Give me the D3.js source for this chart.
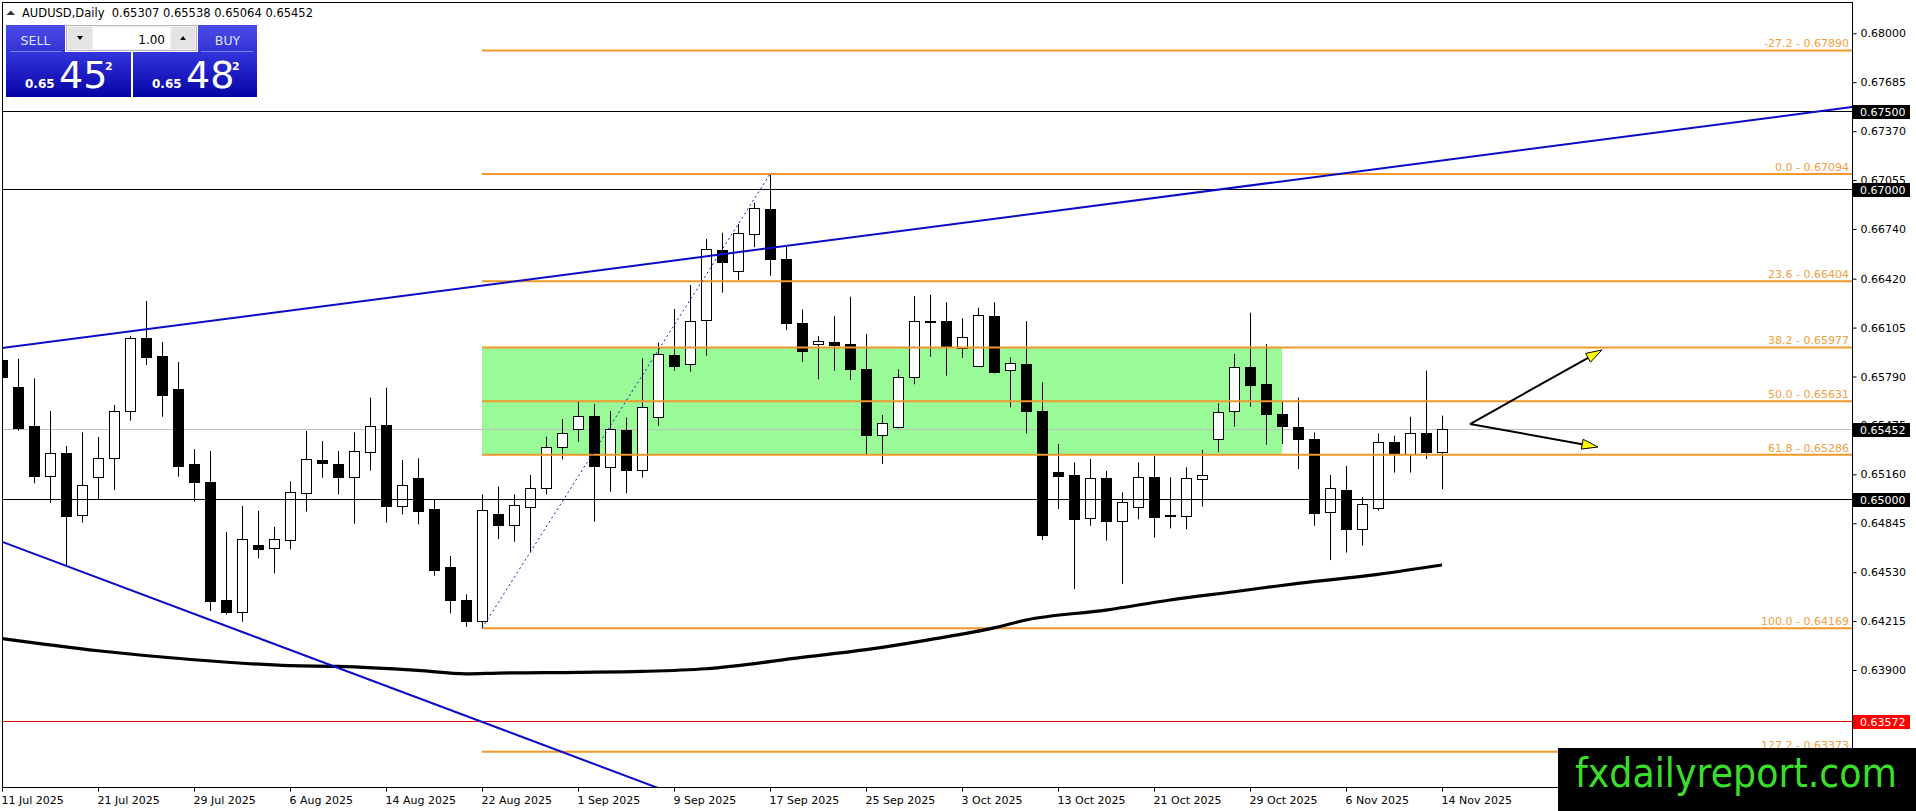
<!DOCTYPE html>
<html><head><meta charset="utf-8">
<script src="https://cdn.jsdelivr.net/npm/d3@7/dist/d3.min.js"></script>
<style>
html,body{margin:0;padding:0;background:#fff;overflow:hidden;}
svg{display:block;}
text{font-family:"DejaVu Sans",sans-serif;}
</style></head><body>
<svg id="chart" width="1916" height="811"></svg>
<script>
// ---------------- DATA ----------------
const symbol = "AUDUSD", timeframe = "Daily";
const dates = ["11 Jul 2025","14 Jul 2025","15 Jul 2025","16 Jul 2025","17 Jul 2025","18 Jul 2025","21 Jul 2025","22 Jul 2025","23 Jul 2025","24 Jul 2025","25 Jul 2025","28 Jul 2025","29 Jul 2025","30 Jul 2025","31 Jul 2025",
"1 Aug 2025","4 Aug 2025","5 Aug 2025","6 Aug 2025","7 Aug 2025","8 Aug 2025","11 Aug 2025","12 Aug 2025","13 Aug 2025","14 Aug 2025","15 Aug 2025","18 Aug 2025","19 Aug 2025","20 Aug 2025","21 Aug 2025","22 Aug 2025","25 Aug 2025","26 Aug 2025","27 Aug 2025","28 Aug 2025","29 Aug 2025",
"1 Sep 2025","2 Sep 2025","3 Sep 2025","4 Sep 2025","5 Sep 2025","8 Sep 2025","9 Sep 2025","10 Sep 2025","11 Sep 2025","12 Sep 2025","15 Sep 2025","16 Sep 2025","17 Sep 2025","18 Sep 2025","19 Sep 2025","22 Sep 2025","23 Sep 2025","24 Sep 2025","25 Sep 2025","26 Sep 2025","29 Sep 2025","30 Sep 2025",
"1 Oct 2025","2 Oct 2025","3 Oct 2025","6 Oct 2025","7 Oct 2025","8 Oct 2025","9 Oct 2025","10 Oct 2025","13 Oct 2025","14 Oct 2025","15 Oct 2025","16 Oct 2025","17 Oct 2025","20 Oct 2025","21 Oct 2025","22 Oct 2025","23 Oct 2025","24 Oct 2025","27 Oct 2025","28 Oct 2025","29 Oct 2025","30 Oct 2025","31 Oct 2025",
"3 Nov 2025","4 Nov 2025","5 Nov 2025","6 Nov 2025","7 Nov 2025","10 Nov 2025","11 Nov 2025","12 Nov 2025","13 Nov 2025","14 Nov 2025"];

const open  = [0.65896,0.65720,0.65471,0.65151,0.65297,0.64896,0.65145,0.65263,0.65566,0.66036,0.65922,0.65709,0.65226,0.65111,0.64349,
0.64271,0.64703,0.64683,0.64735,0.65038,0.65250,0.65226,0.65141,0.65306,0.65478,0.64958,0.65136,0.64937,0.64563,0.64349,0.64218,0.64902,0.64834,0.64948,0.65070,0.65334,
0.65450,0.65536,0.65209,0.65445,0.65188,0.65527,0.65926,0.65868,0.66152,0.66604,0.66471,0.66705,0.66866,0.66547,0.66132,0.65997,0.66010,0.66000,0.65838,0.65411,0.65467,0.65785,
0.66148,0.66145,0.65971,0.65860,0.66180,0.65832,0.65870,0.65568,0.65173,0.65156,0.64877,0.65134,0.64862,0.64952,0.65141,0.64893,0.64894,0.65132,0.65385,0.65566,0.65849,0.65742,0.65548,
0.65467,0.65387,0.64915,0.65059,0.64806,0.64945,0.65370,0.65291,0.65424,0.65307];
const high  = [0.65930,0.65903,0.65778,0.65568,0.65342,0.65430,0.65400,0.65606,0.66051,0.66276,0.66012,0.65883,0.65323,0.65310,0.64789,
0.64956,0.64924,0.64821,0.65115,0.65439,0.65375,0.65310,0.65430,0.65654,0.65718,0.65252,0.65263,0.65000,0.64634,0.64387,0.65031,0.65081,0.65031,0.65156,0.65402,0.65516,
0.65628,0.65611,0.65568,0.65525,0.65907,0.66008,0.66225,0.66379,0.66675,0.66716,0.66772,0.66909,0.67094,0.66630,0.66222,0.66051,0.66180,0.66304,0.66064,0.65542,0.65836,0.66308,
0.66315,0.66268,0.66165,0.66233,0.66268,0.65913,0.66147,0.65752,0.65355,0.65237,0.65259,0.65181,0.65044,0.65237,0.65278,0.65141,0.65205,0.65317,0.65617,0.65935,0.66201,0.65999,0.65628,
0.65654,0.65430,0.65156,0.65214,0.65012,0.65424,0.65409,0.65531,0.65828,0.65538];
const low   = [0.65596,0.65441,0.65102,0.64977,0.64576,0.64849,0.65001,0.65059,0.65506,0.65864,0.65531,0.65145,0.64984,0.64280,0.64258,
0.64211,0.64619,0.64522,0.64677,0.64920,0.65138,0.65031,0.64842,0.65184,0.64849,0.64902,0.64838,0.64507,0.64265,0.64178,0.64169,0.64742,0.64726,0.64656,0.65031,0.65256,
0.65370,0.64855,0.65048,0.65038,0.65139,0.65473,0.65828,0.65821,0.65924,0.66330,0.66411,0.66622,0.66439,0.66089,0.65885,0.65772,0.65828,0.65767,0.65291,0.65227,0.65456,0.65740,
0.65918,0.65795,0.65911,0.65853,0.65810,0.65591,0.65424,0.64737,0.64937,0.64422,0.64829,0.64733,0.64454,0.64870,0.64752,0.64812,0.64806,0.64952,0.65304,0.65467,0.65596,0.65351,0.65355,
0.65194,0.64829,0.64608,0.64656,0.64701,0.64926,0.65171,0.65171,0.65259,0.65064];
const close = [0.65789,0.65460,0.65151,0.65295,0.64894,0.65089,0.65263,0.65566,0.66036,0.65918,0.65673,0.65216,0.65113,0.64346,0.64271,
0.64741,0.64681,0.64741,0.65044,0.65257,0.65235,0.65145,0.65308,0.65471,0.64958,0.65089,0.64926,0.64546,0.64353,0.64218,0.64930,0.64831,0.64963,0.65070,0.65334,0.65424,
0.65538,0.65216,0.65450,0.65188,0.65591,0.65933,0.65860,0.66145,0.66609,0.66529,0.66712,0.66873,0.66544,0.66132,0.65956,0.66019,0.65993,0.65838,0.65413,0.65488,0.65785,0.66145,
0.66142,0.65986,0.66042,0.66186,0.65821,0.65875,0.65570,0.64769,0.65151,0.64870,0.65134,0.64862,0.64980,0.65141,0.64887,0.64898,0.65139,0.65154,0.65559,0.65849,0.65735,0.65548,0.65473,
0.65387,0.64913,0.65070,0.64806,0.64967,0.65370,0.65291,0.65424,0.65306,0.65452];

const xTickIdx = [0,6,12,18,24,30,36,42,48,54,60,66,72,78,84,90];
const yTicks = [0.68000,0.67685,0.67370,0.67055,0.66740,0.66420,0.66105,0.65790,0.65475,0.65160,0.64845,0.64530,0.64215,0.63900,0.63585,0.63270];

// 200-period moving average, read at sample bars
const maIdx  = [0,6,12,18,21,26,29,31,36,40,44,50,54,58,62,64,69,73,77,81,86,90];
const maVals = [0.64102,0.64024,0.63966,0.63928,0.63923,0.63897,0.63875,0.63880,0.63885,0.63891,0.63908,0.63981,0.64031,0.64096,0.64171,0.64222,0.64286,0.64351,0.64404,0.64458,0.64516,0.64576];

// Fibonacci retracement (low bar -> high bar)
const fibBars   = [30, 48];
const fibLevels = ["-27.2","0.0","23.6","38.2","50.0","61.8","100.0","127.2"];
const fibPrices = [0.67890,0.67094,0.66404,0.65977,0.65631,0.65286,0.64169,0.63373];
const zoneBars  = [30, 80];
const zonePrices = [0.65977, 0.65286];

const blackLevels = [0.67500, 0.67000, 0.65000];
const redLevel = 0.63572;
const bid = 0.65452, ask = 0.65482, lot = "1.00";

const trendUpper = [[0, 0.65973],[90, 0.67181]];
const trendLower = [[0, 0.64726],[40, 0.63179]];
const arrowFrom = [91.75, 0.65484];
const arrowTo   = [[100, 0.65961],[99.75, 0.65336]];
const watermark = "fxdailyreport.com";

// ---------------- CHART ----------------
const svg = d3.select("#chart");
const L = 2, T = 2, R = 1852, B = 787;
const x = d3.scaleLinear().domain([0, 115.625]).range([L, R]);
const y = d3.scaleLinear().domain([0.68, 0.639]).range([33.3, 670]);

const defs = svg.append("defs");
defs.append("clipPath").attr("id","plotclip").append("rect")
  .attr("x",L).attr("y",T).attr("width",R-L).attr("height",B-T);
function grad(id, c1, c2){
  const g = defs.append("linearGradient").attr("id",id).attr("x1",0).attr("y1",0).attr("x2",0).attr("y2",1);
  g.append("stop").attr("offset","0%").attr("stop-color",c1);
  g.append("stop").attr("offset","100%").attr("stop-color",c2);
}
grad("gLabel","#4b4be8","#3333d4");
grad("gPrice","#3434dc","#0404a6");

svg.append("rect").attr("width",1916).attr("height",811).attr("fill","#fff");

const plot = svg.append("g").attr("clip-path","url(#plotclip)");

// green zone
plot.append("rect")
  .attr("x", x(zoneBars[0])).attr("y", y(zonePrices[0]))
  .attr("width", x(zoneBars[1]) - x(zoneBars[0]))
  .attr("height", y(zonePrices[1]) - y(zonePrices[0]))
  .attr("fill","#98fb98");

// bid line (behind candles)
plot.append("line").attr("x1",L).attr("x2",R)
  .attr("y1",Math.round(y(bid))+0.5).attr("y2",Math.round(y(bid))+0.5)
  .attr("stroke","#c0c0c0").attr("stroke-width",1);

// candles
const bars = d3.range(dates.length);
const cg = plot.append("g");
bars.forEach(i=>{
  const cx = Math.round(x(i)) + 0.5;
  const up = close[i] >= open[i];
  cg.append("line").attr("x1",cx).attr("x2",cx)
    .attr("y1",y(high[i])).attr("y2",y(low[i]))
    .attr("stroke","#000").attr("stroke-width",1);
  const top = Math.round(y(Math.max(open[i],close[i]))) + 0.5;
  const bot = Math.round(y(Math.min(open[i],close[i]))) + 0.5;
  cg.append("rect").attr("x",cx-5).attr("y",top)
    .attr("width",10).attr("height",Math.max(0,bot-top))
    .attr("fill", up ? "#fff" : "#000").attr("stroke","#000").attr("stroke-width",1);
});

// horizontal level lines
blackLevels.forEach(v=>{
  const yy = Math.round(y(v))+0.5;
  plot.append("line").attr("x1",L).attr("x2",R).attr("y1",yy).attr("y2",yy)
    .attr("stroke","#000").attr("stroke-width",1);
});
{
  const yy = Math.round(y(redLevel))+0.5;
  plot.append("line").attr("x1",L).attr("x2",R).attr("y1",yy).attr("y2",yy)
    .attr("stroke","#e00000").attr("stroke-width",1);
}

// fibonacci lines + labels
fibPrices.forEach((v,k)=>{
  plot.append("line").attr("x1",x(fibBars[0])).attr("x2",R)
    .attr("y1",y(v)).attr("y2",y(v))
    .attr("stroke","#f0982a").attr("stroke-width",2);
  plot.append("text").attr("x",R-3).attr("y",y(v)-3)
    .attr("text-anchor","end").attr("font-size",11).attr("fill","#f0a040")
    .text(fibLevels[k] + " - " + d3.format(".5f")(v));
});
plot.append("line")
  .attr("x1",x(fibBars[0])).attr("y1",y(fibPrices[6]))
  .attr("x2",x(fibBars[1])).attr("y2",y(fibPrices[1]))
  .attr("stroke","#1a1acc").attr("stroke-width",1).attr("stroke-dasharray","2,3");

// moving average
plot.append("path")
  .datum(maIdx.map((d,k)=>[d, maVals[k]]))
  .attr("d", d3.line().x(d=>x(d[0])).y(d=>y(d[1])).curve(d3.curveMonotoneX))
  .attr("fill","none").attr("stroke","#000").attr("stroke-width",3.2);

// trend lines (extended across chart)
function ray(p){
  const s = (p[1][1]-p[0][1])/(p[1][0]-p[0][0]);
  const a = -2, b = 117;
  return [[a, p[0][1]+s*(a-p[0][0])],[b, p[0][1]+s*(b-p[0][0])]];
}
[trendUpper, trendLower].forEach(t=>{
  const r = ray(t);
  plot.append("line").attr("x1",x(r[0][0])).attr("y1",y(r[0][1]))
    .attr("x2",x(r[1][0])).attr("y2",y(r[1][1]))
    .attr("stroke","#0a0ac8").attr("stroke-width",2);
});

// arrows
arrowTo.forEach(t=>{
  const x0 = x(arrowFrom[0]), y0 = y(arrowFrom[1]);
  const x1 = x(t[0]), y1 = y(t[1]);
  const ang = Math.atan2(y1-y0, x1-x0);
  const len = 16, hw = 5;
  const bx = x1 - len*Math.cos(ang), by = y1 - len*Math.sin(ang);
  plot.append("line").attr("x1",x0).attr("y1",y0).attr("x2",bx).attr("y2",by)
    .attr("stroke","#000").attr("stroke-width",2);
  const pts = [[x1,y1],[bx - hw*Math.sin(ang), by + hw*Math.cos(ang)],[bx + hw*Math.sin(ang), by - hw*Math.cos(ang)]];
  plot.append("polygon").attr("points", pts.map(p=>p.join(",")).join(" "))
    .attr("fill","#ffff00").attr("stroke","#000").attr("stroke-width",1);
});

// frame
svg.append("rect").attr("x",L+0.5).attr("y",T+0.5).attr("width",R-L).attr("height",B-T)
  .attr("fill","none").attr("stroke","#000").attr("stroke-width",1);

// y axis
const yAxis = svg.append("g").attr("transform",`translate(${R+0.5},0)`)
  .call(d3.axisRight(y).tickValues(yTicks).tickFormat(d3.format(".5f")).tickSize(4).tickPadding(4));
yAxis.select(".domain").remove();
yAxis.selectAll("text").attr("font-family","DejaVu Sans").attr("font-size",11).attr("fill","#000");
yAxis.selectAll("line").attr("stroke","#000");

// x axis
const xAxis = svg.append("g").attr("transform",`translate(0,${B+0.5})`)
  .call(d3.axisBottom(x).tickValues(xTickIdx).tickFormat(i=>dates[i]).tickSize(4).tickPadding(5));
xAxis.select(".domain").remove();
xAxis.selectAll("text").attr("font-family","DejaVu Sans").attr("font-size",11).attr("fill","#000")
  .attr("text-anchor","start").attr("dx",-1);
xAxis.selectAll("line").attr("stroke","#000");

// price tags
function tag(v, bg){
  const yy = Math.round(y(v));
  svg.append("rect").attr("x",R+1).attr("y",yy-6).attr("width",57).attr("height",14).attr("fill",bg);
  svg.append("text").attr("x",R+8).attr("y",yy+1).attr("dy","0.35em")
    .attr("font-size",11).attr("fill","#fff").text(d3.format(".5f")(v));
}
blackLevels.forEach(v=>tag(v,"#000"));
tag(bid,"#000");
tag(redLevel,"#ff0000");

// header
svg.append("path").attr("d","M6.5,15 L10.8,10.5 L15,15 Z").attr("fill","#333");
svg.append("text").attr("x",22).attr("y",16.5).attr("font-size",11.5).attr("fill","#000")
  .attr("xml:space","preserve")
  .text(`${symbol},${timeframe}  ${[open,high,low,close].map(a=>d3.format(".5f")(a[a.length-1])).join(" ")}`);

// one-click trading panel
const panel = svg.append("g");
panel.append("rect").attr("x",6).attr("y",25).attr("width",59).attr("height",27).attr("fill","url(#gLabel)");
panel.append("rect").attr("x",198).attr("y",25).attr("width",59).attr("height",27).attr("fill","url(#gLabel)");
panel.append("rect").attr("x",6).attr("y",52).attr("width",125).attr("height",45).attr("fill","url(#gPrice)");
panel.append("rect").attr("x",133).attr("y",52).attr("width",124).attr("height",45).attr("fill","url(#gPrice)");
panel.append("line").attr("x1",10).attr("x2",62).attr("y1",51.5).attr("y2",51.5).attr("stroke","#7c7cf4");
panel.append("line").attr("x1",201).attr("x2",253).attr("y1",51.5).attr("y2",51.5).attr("stroke","#7c7cf4");
panel.append("text").attr("x",35.5).attr("y",45).attr("text-anchor","middle").attr("font-size",12.5).attr("fill","#dde4ff").text("SELL");
panel.append("text").attr("x",227.5).attr("y",45).attr("text-anchor","middle").attr("font-size",12.5).attr("fill","#dde4ff").text("BUY");
// lot control
panel.append("rect").attr("x",66.5).attr("y",25.5).attr("width",130).attr("height",25).attr("fill","#f0f0f0").attr("stroke","#b8b8b8");
panel.append("rect").attr("x",68).attr("y",27).attr("width",24).attr("height",22).attr("fill","#e4e4e4");
panel.append("rect").attr("x",93).attr("y",27).attr("width",77).attr("height",22).attr("fill","#fff");
panel.append("rect").attr("x",171).attr("y",27).attr("width",24).attr("height",22).attr("fill","#e4e4e4");
panel.append("path").attr("d","M77,36 L83,36 L80,40 Z").attr("fill","#000");
panel.append("path").attr("d","M180,40 L186,40 L183,36 Z").attr("fill","#000");
panel.append("text").attr("x",165).attr("y",43.5).attr("text-anchor","end").attr("font-size",12).attr("fill","#000").text(lot);
// prices
function priceBlock(v, x0){
  const s = d3.format(".5f")(v);
  panel.append("text").attr("x",x0).attr("y",88).attr("font-size",12).attr("font-weight","bold").attr("fill","#fff").text(s.slice(0,4));
  panel.append("text").attr("x",x0+34).attr("y",88).attr("font-family","Liberation Sans").attr("font-size",38).attr("fill","#fff").text(s.slice(4,6));
  panel.append("text").attr("x",x0+80).attr("y",70).attr("font-size",11).attr("font-weight","bold").attr("fill","#fff").text(s.slice(6));
}
priceBlock(bid, 25);
priceBlock(ask, 152);

// watermark
svg.append("rect").attr("x",1558).attr("y",748).attr("width",358).attr("height",63).attr("fill","#000");
svg.append("text").attr("x",1575).attr("y",787).attr("font-family","Liberation Sans").attr("font-size",40)
  .attr("textLength",322).attr("lengthAdjust","spacingAndGlyphs")
  .attr("fill","#3ade2a").text(watermark);
</script>
</body></html>
